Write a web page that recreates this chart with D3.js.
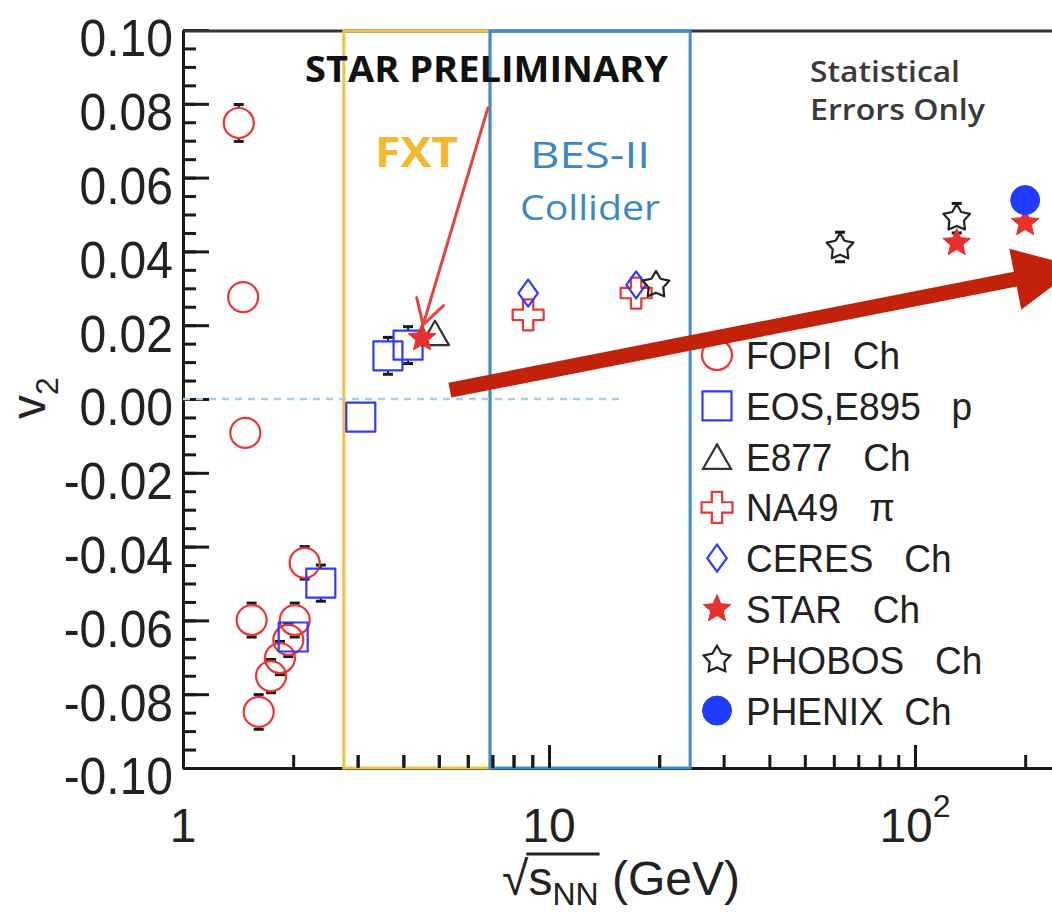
<!DOCTYPE html>
<html>
<head>
<meta charset="utf-8">
<script src="https://cdn.jsdelivr.net/npm/d3@7"></script>
<style>
  html, body { margin: 0; padding: 0; background: #fff; }
  svg { display: block; }
</style>
</head>
<body>
<svg id="chart" width="1052" height="912"></svg>
<script>
// Elliptic flow v2 vs collision energy sqrt(s_NN), statistical errors only.

// ---- data: energy (GeV), v2, stat. error ----
const fopiEnergy = [1.42, 1.46, 1.48, 1.54, 1.61, 1.74, 1.84, 1.94, 2.02, 2.15];
const fopiV2     = [0.0748, 0.0276, -0.0092, -0.0599, -0.0848, -0.0751, -0.0702, -0.0653, -0.0599, -0.0444];
const fopiErr    = [0.005, 0.003, 0.003, 0.0046, 0.0047, 0.0045, 0.0045, 0.0045, 0.0046, 0.0044];

const eosEnergy = [2.0, 2.38, 3.06, 3.63, 4.12];
const eosV2     = [-0.0645, -0.0499, -0.0049, 0.0117, 0.0146];
const eosErr    = [0.003, 0.0049, 0.002, 0.005, 0.005];

const e877Energy = [4.88];
const e877V2     = [0.0179];
const e877Err    = [0.002];

const na49Energy = [8.77, 17.3];
const na49V2     = [0.0228, 0.0287];
const na49Err    = [0.002, 0.002];

const ceresEnergy = [8.77, 17.3];
const ceresV2     = [0.0287, 0.0309];
const ceresErr    = [0.002, 0.002];

const starEnergy = [4.5, 130, 200];
const starV2     = [0.0165, 0.0423, 0.0477];
const starErr    = [0.001, 0.002, 0.003];

const phobosEnergy = [19.6, 62.4, 130];
const phobosV2     = [0.0309, 0.0412, 0.049];
const phobosErr    = [0.002, 0.004, 0.004];

const phenixEnergy = [200];
const phenixV2     = [0.0539];
const phenixErr    = [0.001];

// legend text
const legendLabels = ["FOPI  Ch", "EOS,E895   p", "E877   Ch", "NA49   \u03c0", "CERES   Ch", "STAR   Ch", "PHOBOS   Ch", "PHENIX  Ch"];

// axis ticks
const yTickLabels = ["-0.10", "-0.08", "-0.06", "-0.04", "-0.02", "0.00", "0.02", "0.04", "0.06", "0.08", "0.10"];
const yMinorTicks = d3.range(-20, 21).map(i => i * 0.005);
const xMajorTicks = [1, 10, 100];
const xTickBase = ["1", "10", "10"];
const xTickExp  = ["", "", "2"];
const xMinorTicks = [2, 3, 4, 5, 6, 7, 8, 9, 20, 30, 40, 50, 60, 70, 80, 90, 200];

// energy ranges of the programme bands
const bandNames  = ["FXT", "BES-II"];
const bandRanges = [[2.75, 6.9], [6.9, 24.3]];

// ---- layout ----
const plotLeft = 183, plotBottom = 768, plotTop = 30, decade = 366;
const xMax = 240;
const x = d3.scaleLog().domain([1, xMax]).range([plotLeft, plotLeft + decade * Math.log10(xMax)]);
const y = d3.scaleLinear().domain([-0.1, 0.1]).range([plotBottom, plotTop]);

const svg = d3.select("#chart");
const RED = "#ee3434", BLUE = "#2f3cff", BLACK = "#1a1a1a";
const FONT = "'Liberation Sans', Arial, Helvetica, sans-serif";
const ANNOT = "'Open Sans', 'Noto Sans', sans-serif";

// ---- marker shapes ----
function starPath(R, k) {
  const p = d3.path();
  for (let i = 0; i < 10; i++) {
    const r = i % 2 === 0 ? R : R * k;
    const a = -Math.PI / 2 + i * Math.PI / 5;
    if (i === 0) p.moveTo(r * Math.cos(a), r * Math.sin(a));
    else p.lineTo(r * Math.cos(a), r * Math.sin(a));
  }
  p.closePath();
  return p.toString();
}
function markerPath(shape, s) {
  const h = s / 2;
  switch (shape) {
    case "circle": {
      const p = d3.path(); p.arc(0, 0, h, 0, 2 * Math.PI); p.closePath(); return p.toString();
    }
    case "square":
      return `M${-h},${-h}H${h}V${h}H${-h}Z`;
    case "triangle": {
      const th = s * 0.87;
      return `M0,${-th / 2}L${h},${th / 2}L${-h},${th / 2}Z`;
    }
    case "cross": {
      const a = s / 6;
      return `M${-a},${-h}L${a},${-h}L${a},${-a}L${h},${-a}L${h},${a}L${a},${a}L${a},${h}L${-a},${h}L${-a},${a}L${-h},${a}L${-h},${-a}L${-a},${-a}Z`;
    }
    case "diamond":
      return `M0,${-h}L${s * 0.36},0L0,${h}L${-s * 0.36},0Z`;
    case "starFilled":
      return starPath(h, 0.45);
    case "starOpen":
      return starPath(h, 0.55);
  }
}

const series = [
  { e: fopiEnergy,   v: fopiV2,   err: fopiErr,   shape: "circle",     color: RED,   fill: false, size: 30 },
  { e: eosEnergy,    v: eosV2,    err: eosErr,    shape: "square",     color: BLUE,  fill: false, size: 29 },
  { e: e877Energy,   v: e877V2,   err: e877Err,   shape: "triangle",   color: "#333", fill: false, size: 28 },
  { e: na49Energy,   v: na49V2,   err: na49Err,   shape: "cross",      color: RED,   fill: false, size: 31 },
  { e: ceresEnergy,  v: ceresV2,  err: ceresErr,  shape: "diamond",    color: BLUE,  fill: false, size: 27 },
  { e: starEnergy,   v: starV2,   err: starErr,   shape: "starFilled", color: "#e8302c", fill: true, size: 29 },
  { e: phobosEnergy, v: phobosV2, err: phobosErr, shape: "starOpen",   color: "#222", fill: false, size: 28 },
  { e: phenixEnergy, v: phenixV2, err: phenixErr, shape: "circle",     color: "#1f3cff", fill: true, size: 29 }
];

// ---- axes ----
function styleAxis(g) {
  g.select(".domain").attr("stroke", BLACK).attr("stroke-width", 3);
  g.selectAll(".tick line").attr("stroke", BLACK).attr("stroke-width", 3);
}
svg.append("g").attr("transform", `translate(${plotLeft},0)`)
  .call(d3.axisLeft(y).tickValues(yMinorTicks).tickSize(-13).tickSizeOuter(0).tickFormat(""))
  .call(styleAxis);
const yAxis = svg.append("g").attr("transform", `translate(${plotLeft},0)`)
  .call(d3.axisLeft(y).tickValues(yTickLabels.map(Number)).tickSize(-26).tickSizeOuter(0).tickPadding(10)
    .tickFormat((d, i) => yTickLabels[i]))
  .call(styleAxis);
yAxis.selectAll(".tick text")
  .attr("font-family", FONT).attr("font-size", 48).attr("fill", "#222")
  .attr("dy", "0.5em").attr("transform", "scale(1,1.08)");

svg.append("g").attr("transform", `translate(0,${plotBottom})`)
  .call(d3.axisBottom(x).tickValues(xMinorTicks).tickSize(-13).tickSizeOuter(0).tickFormat(""))
  .call(styleAxis);
svg.append("g").attr("transform", `translate(0,${plotBottom})`)
  .call(d3.axisBottom(x).tickValues(xMajorTicks).tickSize(-23).tickSizeOuter(0).tickFormat(""))
  .call(styleAxis);

// top frame line
svg.append("line").attr("x1", plotLeft).attr("x2", 1052).attr("y1", plotTop + 1).attr("y2", plotTop + 1)
  .attr("stroke", "#333").attr("stroke-width", 3);

// x tick labels
xMajorTicks.forEach((v, i) => {
  const t = svg.append("text").attr("x", x(v)).attr("y", 842)
    .attr("text-anchor", "middle").attr("font-family", FONT).attr("font-size", 48).attr("fill", "#222");
  t.append("tspan").text(xTickBase[i]);
  if (xTickExp[i]) t.append("tspan").attr("font-size", 32).attr("dy", -25).text(xTickExp[i]);
});

// axis titles
const yTitle = svg.append("text").attr("transform", "translate(45,398) rotate(-90)")
  .attr("text-anchor", "middle").attr("font-family", FONT).attr("font-size", 48).attr("fill", "#222");
yTitle.append("tspan").text("v");
yTitle.append("tspan").attr("font-size", 32).attr("dy", 13).text("2");

const xTitle = svg.append("text").attr("x", 621).attr("y", 895)
  .attr("text-anchor", "middle").attr("font-family", FONT).attr("font-size", 48).attr("fill", "#222");
xTitle.append("tspan").text("\u221a");
xTitle.append("tspan").text("s");
xTitle.append("tspan").attr("font-size", 32).attr("dy", 10).text("NN");
xTitle.append("tspan").attr("dy", -10).text(" (GeV)");
{
  const node = xTitle.node();
  const x0 = node.getEndPositionOfChar(0).x - 2;
  const x1 = node.getEndPositionOfChar(3).x + 1;
  svg.append("line").attr("x1", x0).attr("x2", x1).attr("y1", 854).attr("y2", 854)
    .attr("stroke", "#222").attr("stroke-width", 3);
}

// ---- energy-range bands ----
const bandColors = ["#f6bf3c", "#3a8fd3"];
svg.append("g").selectAll("rect").data(bandRanges).join("rect")
  .attr("x", d => x(d[0])).attr("width", d => x(d[1]) - x(d[0]))
  .attr("y", y(0.1) + 1).attr("height", y(-0.1) - y(0.1) - 1)
  .attr("fill", "none").attr("stroke", (d, i) => bandColors[i]).attr("stroke-width", 3);
// tick marks stay visible above the band outlines along the bottom
svg.append("g").attr("transform", `translate(0,${plotBottom})`)
  .call(d3.axisBottom(x).tickValues(xMinorTicks.filter(v => v > 2.7 && v < 25)).tickSize(-13).tickSizeOuter(0).tickFormat(""))
  .call(g => { g.select(".domain").remove(); g.selectAll(".tick line").attr("stroke", BLACK).attr("stroke-width", 3); });
svg.append("g").attr("transform", `translate(0,${plotBottom})`)
  .call(d3.axisBottom(x).tickValues([10]).tickSize(-23).tickSizeOuter(0).tickFormat(""))
  .call(g => { g.select(".domain").remove(); g.selectAll(".tick line").attr("stroke", BLACK).attr("stroke-width", 3); });

// zero line
svg.append("line").attr("x1", x(1)).attr("x2", x(16)).attr("y1", y(0)).attr("y2", y(0))
  .attr("stroke", "#a9cdea").attr("stroke-width", 2.5).attr("stroke-dasharray", "7,6");

// ---- error bars and markers ----
const gErr = svg.append("g");
const gMark = svg.append("g");
series.forEach(s => {
  const half = s.size / 2;
  s.e.forEach((e, i) => {
    const cx = x(e), cy = y(s.v[i]);
    const yHi = y(s.v[i] + s.err[i]), yLo = y(s.v[i] - s.err[i]);
    if (cy - yHi > half) {
      gErr.append("line").attr("x1", cx).attr("x2", cx).attr("y1", yHi).attr("y2", cy - half)
        .attr("stroke", BLACK).attr("stroke-width", 2);
      gErr.append("line").attr("x1", cx - 5).attr("x2", cx + 5).attr("y1", yHi).attr("y2", yHi)
        .attr("stroke", BLACK).attr("stroke-width", 3);
    }
    if (yLo - cy > half) {
      gErr.append("line").attr("x1", cx).attr("x2", cx).attr("y1", cy + half).attr("y2", yLo)
        .attr("stroke", BLACK).attr("stroke-width", 2);
      gErr.append("line").attr("x1", cx - 5).attr("x2", cx + 5).attr("y1", yLo).attr("y2", yLo)
        .attr("stroke", BLACK).attr("stroke-width", 3);
    }
    gMark.append("path").attr("d", markerPath(s.shape, s.size))
      .attr("transform", `translate(${cx},${cy})`)
      .attr("fill", s.fill ? s.color : "none")
      .attr("stroke", s.color).attr("stroke-width", s.fill ? 1 : 2.2)
      .attr("stroke-linejoin", "round");
  });
});

// ---- legend ----
const legend = svg.append("g");
legendLabels.forEach((label, i) => {
  const cy = 355 + i * 50.8;
  const s = series[i];
  legend.append("path").attr("d", markerPath(s.shape, s.size))
    .attr("transform", `translate(717,${cy})`)
    .attr("fill", s.fill ? s.color : "none")
    .attr("stroke", s.color).attr("stroke-width", s.fill ? 1 : 2.2);
  legend.append("text")
    .attr("transform", `translate(746,${cy + 14}) scale(1,1.07)`)
    .attr("xml:space", "preserve").style("white-space", "pre")
    .attr("font-family", FONT).attr("font-size", 37).attr("fill", "#222")
    .text(label);
});

// ---- annotations ----
svg.append("text").attr("x", 305).attr("y", 82)
  .attr("font-family", ANNOT).attr("font-weight", "bold").attr("font-size", 35).attr("fill", "#111")
  .attr("textLength", 363).attr("lengthAdjust", "spacingAndGlyphs")
  .text("STAR PRELIMINARY");
svg.append("text").attr("x", 375).attr("y", 167)
  .attr("font-family", ANNOT).attr("font-weight", "bold").attr("font-size", 42).attr("fill", "#f5b72e")
  .attr("textLength", 83).attr("lengthAdjust", "spacingAndGlyphs")
  .text(bandNames[0]);
svg.append("text").attr("x", 530).attr("y", 168)
  .attr("font-family", ANNOT).attr("font-size", 37).attr("fill", "#3a87c9")
  .attr("textLength", 120).attr("lengthAdjust", "spacingAndGlyphs")
  .text(bandNames[1]);
svg.append("text").attr("x", 520).attr("y", 220)
  .attr("font-family", ANNOT).attr("font-size", 35).attr("fill", "#3a87c9")
  .attr("textLength", 140).attr("lengthAdjust", "spacingAndGlyphs")
  .text("Collider");
svg.append("text").attr("x", 810).attr("y", 82)
  .attr("font-family", ANNOT).attr("font-weight", 600).attr("font-size", 29).attr("fill", "#3a3a3a")
  .attr("textLength", 150).attr("lengthAdjust", "spacingAndGlyphs")
  .text("Statistical");
svg.append("text").attr("x", 810).attr("y", 120)
  .attr("font-family", ANNOT).attr("font-weight", 600).attr("font-size", 29).attr("fill", "#3a3a3a")
  .attr("textLength", 175).attr("lengthAdjust", "spacingAndGlyphs")
  .text("Errors Only");

// thin arrow pointing to the fixed-target STAR point
const thinFrom = [6.81, 0.0789], thinTo = [4.53, 0.0201];
{
  const [x0, y0] = [x(thinFrom[0]), y(thinFrom[1])];
  const [x1, y1] = [x(thinTo[0]), y(thinTo[1])];
  const ang = Math.atan2(y0 - y1, x0 - x1);
  const L = 28, spread = Math.PI / 6;
  const a1 = [x1 + L * Math.cos(ang - spread), y1 + L * Math.sin(ang - spread)];
  const a2 = [x1 + L * Math.cos(ang + spread), y1 + L * Math.sin(ang + spread)];
  svg.append("path")
    .attr("d", `M${x0},${y0}L${x1},${y1}M${a1[0]},${a1[1]}L${x1},${y1}L${a2[0]},${a2[1]}`)
    .attr("fill", "none").attr("stroke", "#e8423c").attr("stroke-width", 3).attr("stroke-linecap", "round");
}

// thick trend arrow
const bigFrom = [5.36, 0.0024], bigTo = [279, 0.0358];
{
  const [x0, y0] = [x(bigFrom[0]), y(bigFrom[1])];
  const [x1, y1] = [x(bigTo[0]), y(bigTo[1])];
  const len = Math.hypot(x1 - x0, y1 - y0);
  const ux = (x1 - x0) / len, uy = (y1 - y0) / len;
  const nx = -uy, ny = ux;
  const headLen = 64, headHalf = 31, shaftHalf = 7.5;
  const bx = x1 - headLen * ux, by = y1 - headLen * uy;
  const pts = [
    [x0 + nx * shaftHalf, y0 + ny * shaftHalf],
    [bx + nx * shaftHalf, by + ny * shaftHalf],
    [bx + nx * headHalf, by + ny * headHalf],
    [x1, y1],
    [bx - nx * headHalf, by - ny * headHalf],
    [bx - nx * shaftHalf, by - ny * shaftHalf],
    [x0 - nx * shaftHalf, y0 - ny * shaftHalf]
  ];
  svg.append("path").attr("d", "M" + pts.map(p => p.join(",")).join("L") + "Z").attr("fill", "#c2220a");
}
</script>
</body>
</html>
